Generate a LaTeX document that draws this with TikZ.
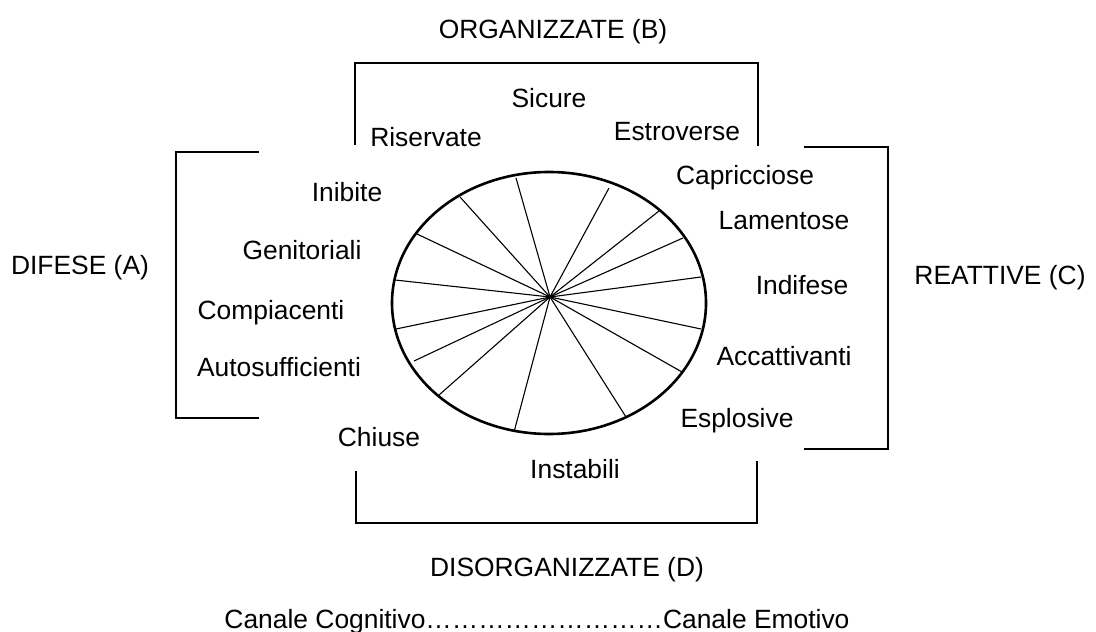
\documentclass[tikz,border=0pt]{standalone}
\usepackage{fontspec}
\setmainfont{Liberation Sans}
\begin{document}
\begin{tikzpicture}[x=1pt,y=-1pt,
            lbl/.style={anchor=base,inner sep=0pt,font=\fontsize{26.4}{30}\selectfont},
            brk/.style={line width=1.2pt},
            spoke/.style={line width=1.1pt}]
            \useasboundingbox (0,0) rectangle (1096,632);

            \coordinate (O) at (550, 297);
            \coordinate (S1) at (516, 178);
            \coordinate (S2) at (609, 188);
            \coordinate (S3) at (659, 211);
            \coordinate (S4) at (683, 238);
            \coordinate (S5) at (701, 277);
            \coordinate (S6) at (701, 329);
            \coordinate (S7) at (682, 372);
            \coordinate (S8) at (626, 417);
            \coordinate (S9) at (514, 432);
            \coordinate (S10) at (439, 395);
            \coordinate (S11) at (414, 361);
            \coordinate (S12) at (396, 329);
            \coordinate (S13) at (395, 280);
            \coordinate (S14) at (417, 234);
            \coordinate (S15) at (460, 197);

            \draw[spoke] (O) -- (S1);
            \draw[spoke] (O) -- (S2);
            \draw[spoke] (O) -- (S3);
            \draw[spoke] (O) -- (S4);
            \draw[spoke] (O) -- (S5);
            \draw[spoke] (O) -- (S6);
            \draw[spoke] (O) -- (S7);
            \draw[spoke] (O) -- (S8);
            \draw[spoke] (O) -- (S9);
            \draw[spoke] (O) -- (S10);
            \draw[spoke] (O) -- (S11);
            \draw[spoke] (O) -- (S12);
            \draw[spoke] (O) -- (S13);
            \draw[spoke] (O) -- (S14);
            \draw[spoke] (O) -- (S15);
            \draw[line width=2.6pt] (549, 303) ellipse [x radius=157, y radius=131];

            \coordinate (B1) at (355, 145);
            \coordinate (B2) at (355, 63);
            \coordinate (B3) at (758, 63);
            \coordinate (B4) at (758, 146);
            \draw[brk] (B1) -- (B2) -- (B3) -- (B4);

            \coordinate (A1) at (259, 152);
            \coordinate (A2) at (176, 152);
            \coordinate (A3) at (176, 418);
            \coordinate (A4) at (259, 418);
            \draw[brk] (A1) -- (A2) -- (A3) -- (A4);

            \coordinate (C1) at (804, 147);
            \coordinate (C2) at (888, 147);
            \coordinate (C3) at (888, 449);
            \coordinate (C4) at (804, 449);
            \draw[brk] (C1) -- (C2) -- (C3) -- (C4);

            \coordinate (D1) at (356, 471);
            \coordinate (D2) at (356, 523);
            \coordinate (D3) at (757, 523);
            \coordinate (D4) at (757, 461);
            \draw[brk] (D1) -- (D2) -- (D3) -- (D4);

            \node[lbl] (org) at (553, 38) {ORGANIZZATE (B)};
            \node[lbl] (dif) at (80, 274) {DIFESE (A)};
            \node[lbl] (rea) at (1000, 284) {REATTIVE (C)};
            \node[lbl] (dis) at (567, 576) {DISORGANIZZATE (D)};

            \node[lbl] (sicure) at (549, 107) {Sicure};
            \node[lbl] (riservate) at (426, 146) {Riservate};
            \node[lbl] (estroverse) at (677, 140) {Estroverse};
            \node[lbl] (inibite) at (347, 201) {Inibite};
            \node[lbl] (genitoriali) at (302, 259) {Genitoriali};
            \node[lbl] (compiacenti) at (271, 319) {Compiacenti};
            \node[lbl] (autosuff) at (279, 376) {Autosufficienti};
            \node[lbl] (chiuse) at (379, 446) {Chiuse};
            \node[lbl] (instabili) at (575, 478) {Instabili};
            \node[lbl] (esplosive) at (737, 427) {Esplosive};
            \node[lbl] (accattivanti) at (784, 365) {Accattivanti};
            \node[lbl] (indifese) at (802, 294) {Indifese};
            \node[lbl] (lamentose) at (784, 229) {Lamentose};
            \node[lbl] (capricciose) at (745, 184) {Capricciose};

            \node[lbl] (canali) at (537, 628) {Canale Cognitivo………………………Canale Emotivo};
\end{tikzpicture}
\end{document}
